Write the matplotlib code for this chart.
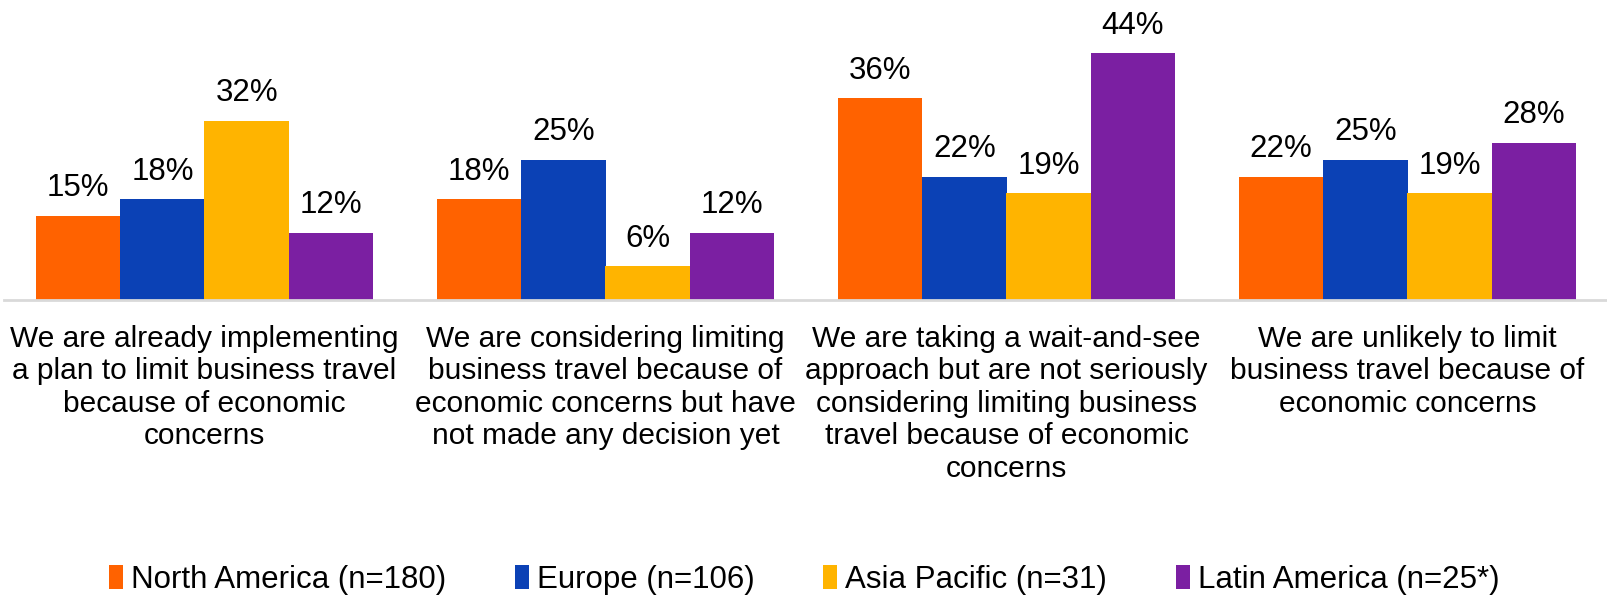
import numpy as np
import matplotlib.pyplot as plt
from matplotlib.patches import Patch

plt.rcParams['font.family'] = ['Liberation Sans', 'DejaVu Sans']

# Survey answers, one group of bars per answer
categories = [
    "We are already implementing\na plan to limit business travel\nbecause of economic\nconcerns",
    "We are considering limiting\nbusiness travel because of\neconomic concerns but have\nnot made any decision yet",
    "We are taking a wait-and-see\napproach but are not seriously\nconsidering limiting business\ntravel because of economic\nconcerns",
    "We are unlikely to limit\nbusiness travel because of\neconomic concerns",
]
regions = ["North America (n=180)", "Europe (n=106)", "Asia Pacific (n=31)", "Latin America (n=25*)"]
north_america = [15, 18, 36, 22]
europe = [18, 25, 22, 25]
asia_pacific = [32, 6, 19, 19]
latin_america = [12, 12, 44, 28]
colors = ['#FF6200', '#0B41B5', '#FFB400', '#7B1FA2']

series = [north_america, europe, asia_pacific, latin_america]

fig = plt.figure(figsize=(16.08, 5.97), dpi=100)
ax = fig.add_axes([4 / 1608, 297 / 597, 1604 / 1608, 300 / 597])

x = np.arange(len(categories))
width = 0.21
for i, (vals, col) in enumerate(zip(series, colors)):
    pos = x + (i - 1.5) * width
    bars = ax.bar(pos, vals, width, color=col, linewidth=0)
    for b, v in zip(bars, vals):
        ax.annotate(f"{v}%", (b.get_x() + b.get_width() / 2, v),
                    xytext=(0, 9), textcoords='offset points',
                    ha='center', va='bottom', fontsize=22.5, color='black')

ax.set_xlim(-0.5, 3.5)
ax.set_ylim(0, 53.5)
ax.set_yticks([])
ax.set_xticks(x)
ax.set_xticklabels(categories, fontsize=21.5, linespacing=1.2)
ax.tick_params(axis='x', length=0, pad=18)
for side in ['top', 'right', 'left']:
    ax.spines[side].set_visible(False)
ax.spines['bottom'].set_color('#D9D9D9')
ax.spines['bottom'].set_linewidth(2)

handles = [Patch(facecolor=c, edgecolor='none') for c in colors]
fig.legend(handles, regions, loc='center', bbox_to_anchor=(0.5, 1 - 580 / 597),
           ncol=4, frameon=False, fontsize=22.5, handlelength=0.45, handleheight=0.8,
           handletextpad=0.25, columnspacing=2.2, borderaxespad=0)

fig.savefig('out.png', dpi=100)
